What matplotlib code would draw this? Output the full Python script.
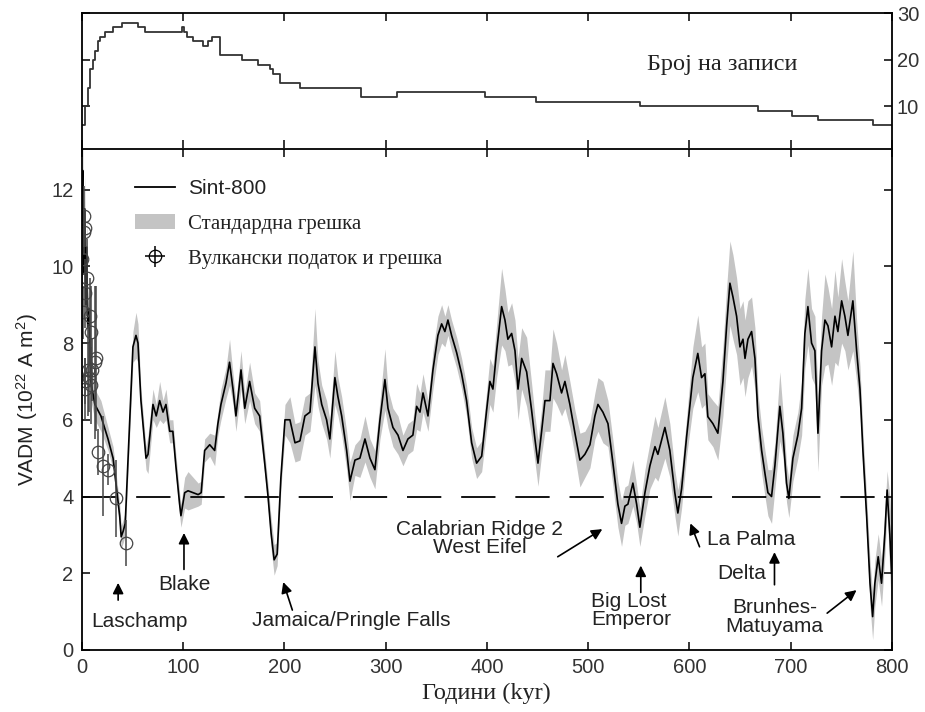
import matplotlib
matplotlib.use("Agg")
import matplotlib.pyplot as plt
from matplotlib.patches import Patch
from matplotlib.lines import Line2D
import numpy as np

SANS = ["Liberation Sans", "DejaVu Sans"]
SERIF = ["Liberation Serif", "DejaVu Serif"]
plt.rcParams["font.family"] = SANS
plt.rcParams["mathtext.default"] = "regular"

# --- number of records (top panel), step curve
rec_age = [0, 3, 6, 8, 11, 13, 16, 18, 23, 31, 39.5, 55.6, 62.5, 98.7, 101, 103.6,
           110, 120, 125, 128.6, 136.5, 158, 174, 186, 189, 196, 215.5, 276, 311,
           398, 449, 551, 667.6, 701, 727, 781, 800]
rec_count = [6, 10, 14, 18, 20, 22, 24, 25, 26, 27, 28, 27, 26, 27, 26, 25,
             24, 23, 24, 25, 21, 20, 19, 18, 17, 15, 14, 12, 13,
             12, 11, 10, 9, 8, 7, 6, 6]

# --- Sint-800 VADM (10^22 A m^2) and its standard error
age = [0, 1, 2, 3, 4, 5, 6, 7, 9, 13, 19, 26, 31, 34, 37.5, 39, 41, 43, 50.6, 53.6,
       55.6, 58.5, 63.5, 65.5, 70.4, 73.6, 77, 80.3, 83.2, 86.9, 90, 93, 96.7, 98,
       101.7, 105, 110, 115, 118, 121.4, 126.4, 131.3, 134.5, 137.5, 142.5, 146,
       149.4, 152.3, 157.3, 161, 165.8, 170.8, 175.7, 180.6, 184, 187, 190, 193,
       196.7, 200.7, 205.6, 210.6, 215.5, 220.4, 225.4, 230.3, 233.3, 237, 241.8,
       245, 250, 253, 256.7, 261.6, 264.9, 269.8, 274.7, 279.7, 284.6, 289.5,
       294.5, 299.4, 302.4, 307.3, 312.3, 317.2, 322.1, 327, 330.7, 334, 337,
       341.9, 346.8, 351.7, 355.4, 358.6, 361.6, 365.2, 370.2, 375.1, 380, 385,
       389.9, 394.9, 399.8, 403, 406, 409.7, 414.6, 417.9, 420.8, 424.5, 427.8,
       430.8, 434.4, 439.3, 444.2, 447.5, 450.5, 454.1, 457.4, 462.3, 465.3,
       468.9, 473.8, 477.1, 482, 487, 491.9, 496.8, 501.8, 506.7, 509.7, 514.6,
       519.6, 524.5, 529.4, 533, 536.3, 539.3, 544.2, 547.9, 551.1, 556.1, 561,
       566, 568.9, 575.8, 580.7, 585.6, 588.6, 592.3, 597.2, 603.4, 608.3, 612,
       615.3, 618.2, 623.2, 628.1, 633.1, 636.7, 640, 643, 646.6, 649.9, 652.9,
       654.9, 657.8, 661.4, 664.7, 667.7, 671.3, 674.6, 677.5, 681.1, 684.4,
       689.3, 692.3, 695.9, 698.2, 702.2, 707.1, 710.8, 714, 717, 720.6, 723.9,
       726.9, 730.5, 733.8, 736.8, 740.4, 743.7, 746.6, 750.3, 753.5, 756.5,
       761.4, 765.1, 768.4, 771.3, 775, 778.3, 780.9, 783.1, 786.4, 789.7, 793,
       795.2, 797.9, 799.6]
vadm = [11.0, 12.5, 9.8, 11.5, 9.0, 10.5, 8.4, 8.9, 7.0, 6.4, 6.1, 5.5, 5.0, 4.3, 3.5,
        2.95, 3.1, 3.3, 7.9, 8.2, 8.0, 6.5, 5.0, 5.1, 6.4, 6.1, 6.5, 6.2, 6.4, 5.7,
        5.7, 4.8, 3.8, 3.5, 4.1, 4.15, 4.1, 4.05, 4.1, 5.2, 5.35, 5.2, 5.9, 6.4,
        6.96, 7.5, 6.8, 6.1, 7.3, 6.3, 7.0, 6.3, 6.1, 4.9, 4.0, 3.05, 2.35, 2.5,
        4.5, 6.0, 6.0, 5.4, 5.45, 6.1, 6.2, 7.9, 6.95, 6.4, 6.0, 5.5, 7.1, 6.6,
        6.1, 5.2, 4.4, 4.95, 5.0, 5.5, 5.0, 4.7, 6.0, 7.05, 6.3, 5.8, 5.6, 5.2,
        5.5, 5.6, 6.35, 6.2, 6.7, 6.1, 7.3, 8.2, 8.5, 8.3, 8.6, 8.2, 7.75, 7.2,
        6.5, 5.4, 4.87, 5.05, 6.25, 7.0, 6.8, 7.8, 8.95, 8.6, 8.1, 8.25, 7.8, 6.8,
        7.6, 7.25, 6.25, 5.5, 4.87, 5.7, 6.5, 6.5, 7.47, 7.2, 6.7, 7.0, 6.4, 5.65,
        4.95, 5.1, 5.35, 6.1, 6.4, 6.2, 5.9, 4.87, 3.8, 3.3, 3.75, 3.8, 4.35, 3.8,
        3.2, 4.1, 4.8, 5.3, 5.1, 5.8, 5.2, 4.1, 3.57, 4.2, 5.55, 7.1, 7.73, 7.1,
        7.2, 6.08, 5.9, 5.65, 7.0, 8.43, 9.56, 9.2, 8.7, 7.9, 8.1, 7.6, 8.1, 8.3,
        7.6, 6.1, 5.2, 4.6, 4.1, 4.0, 4.8, 6.35, 5.65, 4.35, 3.95, 5.0, 5.6, 6.3,
        8.25, 8.95, 8.0, 7.8, 5.65, 7.8, 8.6, 8.45, 7.9, 8.7, 8.3, 9.1, 8.7, 8.2,
        9.1, 7.8, 6.8, 5.2, 3.48, 1.74, 0.87, 1.74, 2.43, 1.74, 3.04, 4.17, 3.0,
        2.0]
vadm_err = [1.0, 1.0, 0.8, 0.9, 0.8, 0.8, 0.6, 0.6, 0.5, 0.4, 0.4, 0.3, 0.3, 0.3, 0.3,
            0.3, 0.3, 0.3, 0.4, 0.6, 0.5, 0.3, 0.3, 0.5, 0.4, 0.3, 0.5, 0.3, 0.4, 0.3,
            0.3, 0.3, 0.3, 0.3, 0.4, 0.5, 0.4, 0.3, 0.3, 0.3, 0.3, 0.4, 0.3, 0.4,
            0.4, 0.6, 0.4, 0.4, 0.5, 0.4, 0.5, 0.4, 0.4, 0.3, 0.3, 0.4, 0.4, 0.3,
            0.3, 0.4, 0.6, 0.5, 0.5, 0.5, 0.5, 1.0, 0.6, 0.5, 0.5, 0.5, 0.7, 0.5,
            0.5, 0.5, 0.5, 0.4, 0.5, 0.6, 0.5, 0.5, 0.5, 0.8, 0.5, 0.5, 0.5, 0.4,
            0.4, 0.4, 0.6, 0.5, 0.5, 0.4, 0.5, 0.5, 0.5, 0.4, 0.4, 0.4, 0.4, 0.4,
            0.4, 0.4, 0.4, 0.4, 0.5, 0.6, 0.6, 0.7, 1.0, 0.8, 0.7, 0.8, 0.8, 0.8,
            0.8, 0.9, 0.7, 0.6, 0.6, 0.6, 0.8, 0.8, 0.9, 0.8, 0.6, 0.7, 0.6, 0.6,
            0.7, 0.6, 0.6, 0.6, 0.7, 0.8, 0.6, 0.6, 0.6, 0.6, 0.5, 0.5, 0.6, 0.5,
            0.5, 0.6, 0.6, 0.8, 0.7, 0.8, 0.7, 0.6, 0.6, 0.5, 0.5, 0.8, 1.0, 0.8,
            0.8, 0.6, 0.6, 0.7, 0.9, 1.0, 1.1, 1.1, 1.0, 1.0, 1.0, 1.0, 1.0, 0.9,
            0.8, 0.6, 0.6, 0.6, 0.6, 0.7, 0.6, 0.9, 0.6, 0.5, 0.5, 0.6, 0.6, 0.7,
            0.9, 1.0, 0.9, 0.9, 1.0, 0.9, 1.2, 1.0, 1.0, 1.2, 0.9, 1.1, 0.9, 0.9,
            1.3, 0.8, 0.6, 0.5, 0.5, 0.6, 0.6, 0.6, 0.6, 0.6, 0.6, 0.5, 1.0, 1.0]

# --- volcanic data with errors
volc_age = [0.3, 1.5, 2.0, 2.5, 3.0, 3.5, 3.0, 3.5, 5.0, 6.0, 7.0, 8.0, 9.5, 9.5,
            10.0, 13.0, 14.4, 16.0, 21.0, 26.0, 34.0, 44.0]
volc_vadm = [10.2, 8.8, 10.9, 11.3, 11.0, 9.3, 7.0, 6.8, 9.7, 7.3, 7.1, 8.7, 8.3, 6.9,
             7.3, 7.5, 7.6, 5.15, 4.8, 4.7, 3.95, 2.8]
volc_err = [0.8, 0.7, 0.6, 0.8, 0.5, 0.9, 0.6, 0.8, 1.0, 1.2, 0.9, 1.0, 1.2, 1.0,
            0.8, 2.0, 1.9, 0.6, 1.3, 0.4, 1.0, 0.6]

# --- labelled excursions: (text, text pos, arrow tail, arrow head, align)
events = [
    ("Laschamp", (57, 0.73), (36, 1.3), (36, 1.75), "center"),
    ("Blake", (101, 1.7), (101, 2.1), (101, 3.05), "center"),
    ("Jamaica/Pringle Falls", (266, 0.78), (208, 1.04), (199, 1.77), "center"),
    ("Calabrian Ridge 2\nWest Eifel", (393, 2.9), (470, 2.43), (514, 3.15), "center"),
    ("Big Lost\nEmperor", (503, 1.02), (552, 1.5), (552, 2.2), "left"),
    ("La Palma", (617, 2.87), (610, 2.69), (601, 3.3), "left"),
    ("Delta", (676, 2.0), (684, 1.7), (684, 2.55), "right"),
    ("Brunhes-\nMatuyama", (684, 0.86), (736, 0.96), (765, 1.56), "center"),
]

fig = plt.figure(figsize=(9.25, 7.12), dpi=100)
ax_top = fig.add_axes([0.0883, 0.7917, 0.876, 0.1896])
ax = fig.add_axes([0.0883, 0.0871, 0.876, 0.7032])

tick_color = "#333333"

# top panel
ax_top.step(rec_age, rec_count, where="post", color="#333333", lw=1.3)
ax_top.set_xlim(0, 800)
ax_top.set_ylim(1, 30)
ax_top.set_xticks(range(0, 801, 100))
ax_top.set_yticks([10, 20, 30])
ax_top.tick_params(axis="both", direction="in", length=6, width=1.1,
                   top=True, bottom=True, left=True, right=True,
                   labelbottom=False, labelleft=False, labelright=True,
                   labelsize=14.5, labelcolor=tick_color)
ax_top.spines["bottom"].set_visible(False)
ax_top.text(632, 19, "Број на записи", family=SERIF, fontsize=17.5,
            ha="center", va="center", color="#222222")

# bottom panel
ax.fill_between(age, np.array(vadm) - np.array(vadm_err),
                np.array(vadm) + np.array(vadm_err),
                color="#c4c4c4", lw=0)
ax.plot(age, vadm, color="black", lw=1.2)
ax.axhline(4, color="black", lw=1.3, linestyle=(0, (19, 11)))
ax.errorbar(volc_age, volc_vadm, yerr=volc_err, fmt="o", ms=9, mfc="none",
            mec="#444444", mew=0.9, ecolor="#444444", elinewidth=1.1, capsize=0)

for label, tpos, tail, head, align in events:
    ax.text(tpos[0], tpos[1], label, fontsize=15, ha=align, va="center",
            color="#222222", linespacing=0.95)
    ax.annotate("", xy=head, xytext=tail,
                arrowprops=dict(arrowstyle="-|>", color="black", lw=1.2,
                                mutation_scale=16, shrinkA=0, shrinkB=0))

ax.set_xlim(0, 800)
ax.set_ylim(0, 13.05)
ax.set_xticks(range(0, 801, 100))
ax.set_yticks(range(0, 13, 2))
ax.tick_params(axis="both", direction="in", length=6, width=1.1,
               top=True, right=True, labelsize=14.5, labelcolor=tick_color, pad=6)
ax.set_ylabel("VADM (10$^{22}$ A m$^{2}$)", fontsize=15, color="#222222", labelpad=8)
ax.set_xlabel("Години (kyr)", family=SERIF, fontsize=17.5, color="#222222", labelpad=4)

for a in (ax, ax_top):
    for s in a.spines.values():
        s.set_linewidth(1.3)

volc_handle = ax.errorbar([np.nan], [np.nan], xerr=[1], yerr=[1], fmt="o", ms=9,
                          mfc="none", mec="black", ecolor="black", mew=0.9,
                          elinewidth=1.1, capsize=0)
handles = [Line2D([], [], color="black", lw=1.3),
           Patch(facecolor="#c4c4c4", edgecolor="none"),
           volc_handle]
leg = ax.legend(handles, ["Sint-800", "Стандардна грешка", "Вулкански податок и грешка"],
                loc="upper left", bbox_to_anchor=(0.066, 0.94), frameon=False,
                borderpad=0, borderaxespad=0,
                fontsize=15, handlelength=1.9, labelspacing=0.75, handletextpad=0.65)
texts = leg.get_texts()
texts[0].set_color("#222222")
for t in texts[1:]:
    t.set_fontfamily(SERIF)
    t.set_fontsize(15)
    t.set_color("#222222")

fig.savefig("out.png", dpi=100)
